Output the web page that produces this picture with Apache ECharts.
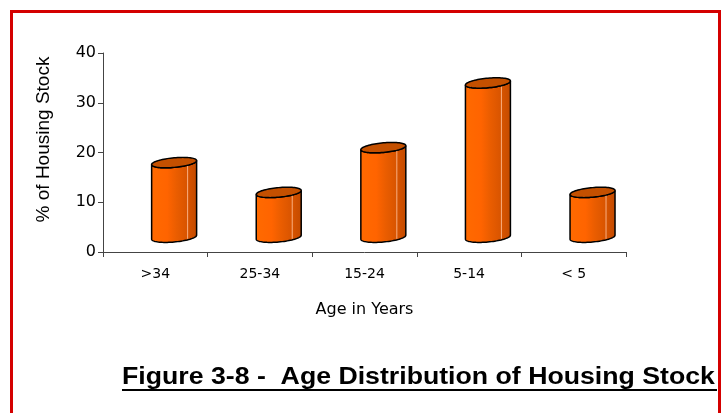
<!DOCTYPE html>
<html>
<head>
<meta charset="utf-8">
<script src="https://cdn.jsdelivr.net/npm/echarts@6/dist/echarts.min.js"></script>
<style>
  html, body { margin: 0; padding: 0; background: #fff; }
  #chart { width: 722px; height: 413px; }
</style>
</head>
<body>
<div id="chart"></div>
<script>
// Age bands of the housing stock and their share (%)
const categories = ['>34', '25-34', '15-24', '5-14', '< 5'];
const shares = [15, 9, 18, 31, 9];
const yTicks = [0, 10, 20, 30, 40];

const chart = echarts.init(document.getElementById('chart'), null, { renderer: 'canvas' });

// Draws one orange cylinder: a shaded body and a darker elliptical cap,
// pushed back a little in depth (up and to the right).
function cylinder(params, api) {
  const idx = api.value(0);
  const v = api.value(1);
  const top = api.coord([idx, v]);
  const base = api.coord([idx, 0]);
  const band = api.size([1, 0])[0];
  const a = band * 0.215;   // half width
  const b = 4.8;            // half height of the ellipse
  const s = 2;              // slight tilt of the ellipse
  const dx = band * 0.18;
  const dy = -10;
  const cx = top[0] + dx;
  const cyTop = top[1] + dy - b;
  const cyBot = base[1] + dy - b;
  const pt = (t, cy) => [cx + a * Math.cos(t), cy + b * Math.sin(t) - s * Math.cos(t)];
  const N = 40;
  const body = [];
  for (let i = 0; i <= N; i++) body.push(pt(Math.PI * i / N, cyTop));
  for (let i = N; i >= 0; i--) body.push(pt(Math.PI * i / N, cyBot));
  const cap = [];
  for (let i = 0; i < 2 * N; i++) cap.push(pt(Math.PI * i / N, cyTop));
  const hx = cx + a * 0.6;
  const tH = Math.acos(0.6);
  return {
    type: 'group',
    children: [
      {
        type: 'polygon',
        shape: { points: body },
        style: {
          fill: {
            type: 'linear', x: 0, y: 0, x2: 1, y2: 0,
            colorStops: [
              { offset: 0, color: '#ff6a00' },
              { offset: 0.35, color: '#ff6400' },
              { offset: 0.55, color: '#ea5d00' },
              { offset: 0.78, color: '#d85400' },
              { offset: 1, color: '#c24a00' }
            ]
          },
          stroke: '#000',
          lineWidth: 1.5
        }
      },
      {
        type: 'line',
        shape: { x1: hx, y1: pt(tH, cyTop)[1], x2: hx, y2: pt(tH, cyBot)[1] - 1 },
        style: { stroke: 'rgba(255,190,150,0.85)', lineWidth: 1 }
      },
      {
        type: 'polygon',
        shape: { points: cap },
        style: { fill: '#c45000', stroke: '#000', lineWidth: 1.5 }
      }
    ]
  };
}

chart.setOption({
  animation: false,
  backgroundColor: '#fff',
  grid: { left: 103, right: 96, top: 53, bottom: 161 },
  xAxis: {
    type: 'category',
    data: categories,
    name: 'Age in Years',
    nameLocation: 'middle',
    nameGap: 50,
    nameTextStyle: { fontFamily: 'DejaVu Sans', fontSize: 16, color: '#000' },
    axisLine: { lineStyle: { color: '#444', width: 1 } },
    axisTick: { show: true, length: 5, lineStyle: { color: '#444' } },
    axisLabel: { fontFamily: 'DejaVu Sans', fontSize: 14, color: '#000', margin: 15 }
  },
  yAxis: {
    type: 'value',
    min: yTicks[0],
    max: yTicks[yTicks.length - 1],
    interval: yTicks[1] - yTicks[0],
    name: '% of Housing Stock',
    nameLocation: 'middle',
    nameRotate: 90,
    nameGap: 50,
    nameTextStyle: { fontFamily: 'Liberation Sans', fontSize: 19, color: '#000', padding: [0, 0, 0, 26] },
    axisLine: { show: true, lineStyle: { color: '#444', width: 1 } },
    axisTick: { show: true, length: 5, lineStyle: { color: '#444' } },
    axisLabel: { fontFamily: 'DejaVu Sans', fontSize: 16, color: '#000', margin: 7 },
    splitLine: { show: false }
  },
  series: [{
    type: 'custom',
    renderItem: cylinder,
    encode: { x: 0, y: 1 },
    data: shares.map((v, i) => [i, v]),
    clip: false
  }],
  graphic: [
    {
      type: 'rect',
      shape: { x: 11.5, y: 11.5, width: 708, height: 420 },
      style: { fill: null, stroke: '#d40000', lineWidth: 3 }
    },
    {
      type: 'text',
      x: 122,
      y: 366,
      scaleX: 1.16,
      originX: 0,
      style: {
        text: 'Figure 3-8 -  Age Distribution of Housing Stock',
        font: 'bold 23px "Liberation Sans"',
        fill: '#000'
      }
    },
    {
      type: 'line',
      shape: { x1: 122, y1: 390, x2: 717, y2: 390 },
      style: { stroke: '#000', lineWidth: 2 }
    }
  ]
});
</script>
</body>
</html>
